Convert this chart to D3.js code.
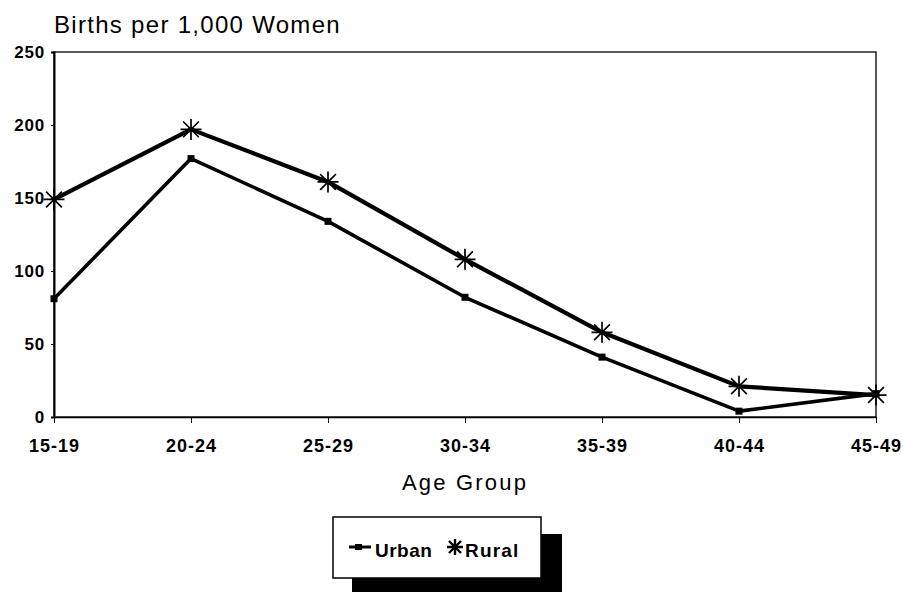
<!DOCTYPE html>
<html><head><meta charset="utf-8">
<script src="https://cdn.jsdelivr.net/npm/d3@7"></script>
<style>body{margin:0;background:#fff;} svg{display:block;font-family:"Liberation Sans",Arial,sans-serif;}</style>
</head><body>
<svg id="c" width="903" height="594"></svg>
<script>
const categories = ["15-19","20-24","25-29","30-34","35-39","40-44","45-49"];
const urban = [81, 177, 134, 82, 41, 4, 16];
const rural = [149, 197, 161, 108, 58, 21, 15];
const yTicks = [0, 50, 100, 150, 200, 250];

const svg = d3.select("#c");
const L = 54, R = 876, T = 52, B = 417;
const x = d3.scalePoint().domain(categories).range([L, R]);
const y = d3.scaleLinear().domain([0, 250]).range([B, T]);
const FF = "Liberation Sans, Arial, sans-serif";

// plot frame
svg.append("rect").attr("x", L).attr("y", T).attr("width", R - L).attr("height", B - T)
  .attr("fill", "none").attr("stroke", "#000").attr("stroke-width", 1.3);

// y axis
const ya = svg.append("g").attr("transform", `translate(${L},0)`)
  .call(d3.axisLeft(y).tickValues(yTicks).tickSize(3).tickFormat(d3.format("d")));
ya.select(".domain").attr("stroke-width", 2);
ya.selectAll("text").attr("font-size", 17).attr("font-weight", "bold").attr("fill", "#000")
  .attr("font-family", FF).attr("letter-spacing", 0.8).attr("dx", -3);

// x axis
const xa = svg.append("g").attr("transform", `translate(0,${B})`)
  .call(d3.axisBottom(x).tickSize(6).tickSizeOuter(0));
xa.select(".domain").attr("stroke-width", 1.6);
xa.selectAll("text").attr("font-size", 18).attr("font-weight", "bold").attr("fill", "#000")
  .attr("font-family", FF).attr("letter-spacing", 1).attr("y", 35).attr("dy", null);

// title and axis label
svg.append("text").attr("x", L).attr("y", 33).attr("font-size", 24).attr("letter-spacing", 1.3)
  .text("Births per 1,000 Women");
svg.append("text").attr("x", (L + R) / 2).attr("y", 490).attr("text-anchor", "middle")
  .attr("font-size", 22).attr("letter-spacing", 2.2).text("Age Group");

const line = d3.line().x((d, i) => x(categories[i])).y(d => y(d));

// rural
svg.append("path").datum(rural).attr("d", line).attr("fill", "none")
  .attr("stroke", "#000").attr("stroke-width", 4.2).attr("stroke-linejoin", "round");
// urban
svg.append("path").datum(urban).attr("d", line).attr("fill", "none")
  .attr("stroke", "#000").attr("stroke-width", 3.6).attr("stroke-linejoin", "round");

function asterisk(g, cx, cy, r, w) {
  const p = d3.path();
  p.moveTo(cx - r, cy); p.lineTo(cx + r, cy);
  p.moveTo(cx, cy - r); p.lineTo(cx, cy + r);
  const k = r * 0.75;
  p.moveTo(cx - k, cy - k); p.lineTo(cx + k, cy + k);
  p.moveTo(cx - k, cy + k); p.lineTo(cx + k, cy - k);
  g.append("path").attr("d", p.toString()).attr("stroke", "#000").attr("stroke-width", w).attr("fill", "none");
}

const rg = svg.append("g");
rural.forEach((v, i) => asterisk(rg, x(categories[i]), y(v), 10.5, 1.7));
svg.append("g").selectAll("rect").data(urban).join("rect")
  .attr("x", (d, i) => x(categories[i]) - 3.5).attr("y", d => y(d) - 3.5)
  .attr("width", 7).attr("height", 7).attr("fill", "#000");

// legend
svg.append("rect").attr("x", 352).attr("y", 534).attr("width", 210).attr("height", 58).attr("fill", "#000");
svg.append("rect").attr("x", 333).attr("y", 517).attr("width", 208).attr("height", 61)
  .attr("fill", "#fff").attr("stroke", "#000").attr("stroke-width", 1.5);
svg.append("line").attr("x1", 349).attr("x2", 371).attr("y1", 547).attr("y2", 547)
  .attr("stroke", "#000").attr("stroke-width", 3);
svg.append("rect").attr("x", 355).attr("y", 544).attr("width", 7).attr("height", 6).attr("fill", "#000");
svg.append("text").attr("x", 375).attr("y", 557).attr("font-size", 19).attr("font-weight", "bold")
  .attr("letter-spacing", 0.5).text("Urban");
asterisk(svg, 455, 547, 8, 2.4);
svg.append("text").attr("x", 465).attr("y", 557).attr("font-size", 19).attr("font-weight", "bold")
  .attr("letter-spacing", 1.2).text("Rural");
</script>
</body></html>
